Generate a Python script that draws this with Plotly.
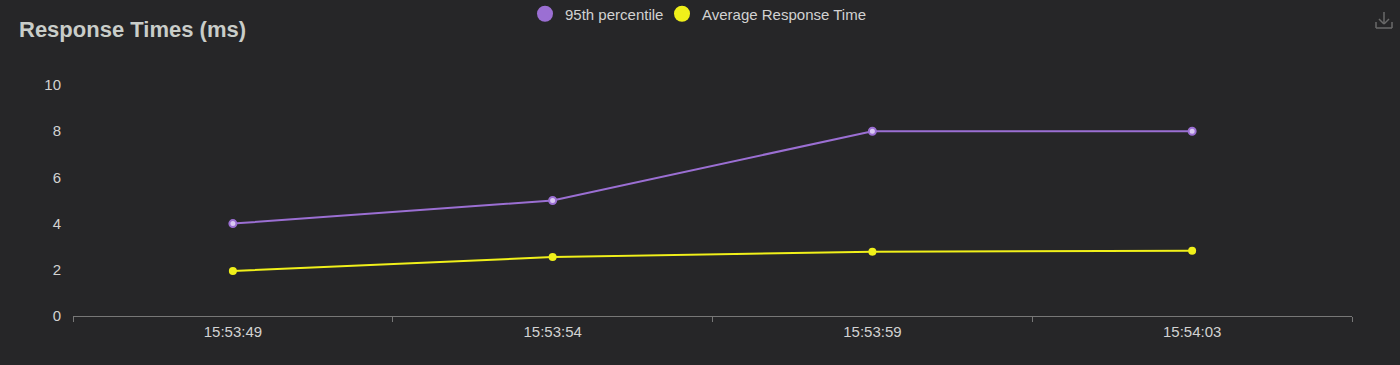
import plotly.graph_objects as go

times = ["15:53:49", "15:53:54", "15:53:59", "15:54:03"]
p95 = [4, 5, 8, 8]
avg = [1.95, 2.55, 2.78, 2.83]
y_ticks = [0, 2, 4, 6, 8, 10]

BG = "#262628"
PURPLE = "#9b6fd3"
YELLOW = "#f0f01a"
TXT = "#d2d2d2"

fig = go.Figure()
fig.add_trace(go.Scatter(x=times, y=p95, mode="lines+markers", name="95th percentile",
                         line=dict(color=PURPLE, width=2),
                         marker=dict(size=7, color="#d9c9f2", line=dict(color=PURPLE, width=2)),
                         showlegend=False))
fig.add_trace(go.Scatter(x=times, y=avg, mode="lines+markers", name="Average Response Time",
                         line=dict(color=YELLOW, width=2),
                         marker=dict(size=8, color=YELLOW),
                         showlegend=False))
# legend entries
fig.add_trace(go.Scatter(x=[None], y=[None], mode="markers", name="95th percentile",
                         marker=dict(size=16, color=PURPLE), legend="legend"))
fig.add_trace(go.Scatter(x=[None], y=[None], mode="markers", name="Average Response Time",
                         marker=dict(size=16, color=YELLOW), legend="legend2"))

# download icon (decorative)
def px(xp):
    return (xp - 73) / 1279
def py(yp):
    return (316 - yp) / 231
icon = "#6a6a6a"
shapes = [
    dict(type="line", xref="paper", yref="paper", x0=px(1384), x1=px(1384), y0=py(12), y1=py(24), line=dict(color=icon, width=1.5)),
    dict(type="line", xref="paper", yref="paper", x0=px(1379), x1=px(1384), y0=py(19), y1=py(24), line=dict(color=icon, width=1.5)),
    dict(type="line", xref="paper", yref="paper", x0=px(1389), x1=px(1384), y0=py(19), y1=py(24), line=dict(color=icon, width=1.5)),
    dict(type="line", xref="paper", yref="paper", x0=px(1376), x1=px(1376), y0=py(22), y1=py(28), line=dict(color=icon, width=1.5)),
    dict(type="line", xref="paper", yref="paper", x0=px(1376), x1=px(1392), y0=py(28), y1=py(28), line=dict(color=icon, width=1.5)),
    dict(type="line", xref="paper", yref="paper", x0=px(1392), x1=px(1392), y0=py(22), y1=py(28), line=dict(color=icon, width=1.5)),
]

leg_common = dict(orientation="h", xanchor="left", xref="container",
                  y=1 - 14/365, yanchor="middle", yref="container",
                  font=dict(size=15, color=TXT), bgcolor="rgba(0,0,0,0)", itemwidth=30)

fig.update_layout(
    width=1400, height=365,
    paper_bgcolor=BG, plot_bgcolor=BG,
    margin=dict(l=73, r=48, t=85, b=49, autoexpand=False),
    font=dict(family="Liberation Sans, Arial, sans-serif", color=TXT, size=15),
    title=dict(text="<b>Response Times (ms)</b>", x=19/1400, xanchor="left", xref="container",
               y=1 - 29/365, yanchor="middle", yref="container",
               font=dict(size=22, color="#c9cdc9")),
    legend=dict(x=(545 - 20) / 1400, **leg_common),
    legend2=dict(x=(682 - 20) / 1400, **leg_common),
    shapes=shapes,
    xaxis=dict(type="category", tickson="boundaries", ticks="outside", ticklen=5,
               tickcolor="#777777", showline=True, linecolor="#777777", linewidth=1,
               showgrid=False, zeroline=False, tickfont=dict(size=15, color=TXT),
               ticklabelstandoff=2, range=[-0.5, 3.5]),
    yaxis=dict(range=[0, 10], tickvals=y_ticks, showgrid=False, zeroline=False,
               showline=False, ticks="", ticklabelstandoff=11,
               tickfont=dict(size=15, color=TXT)),
)

fig.write_html("out.html", config={"displayModeBar": False},
               post_script="document.body.style.margin='0px';document.body.style.background='#262628';")
